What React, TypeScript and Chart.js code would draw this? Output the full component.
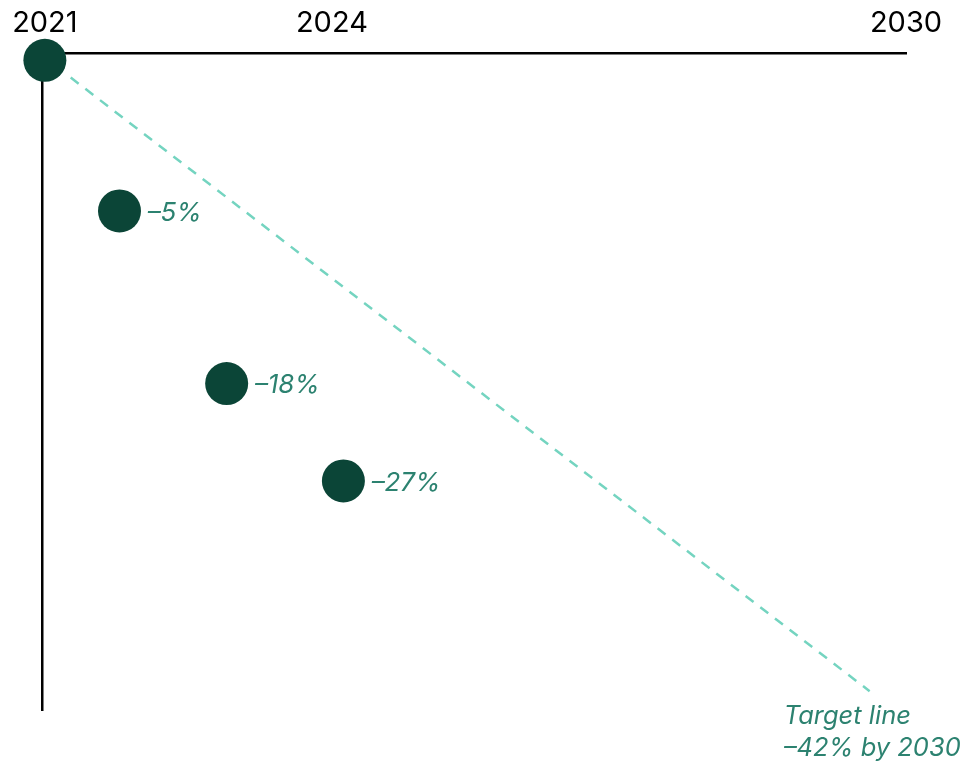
import React, { useEffect, useRef } from "react";
import { Chart, registerables } from "chart.js";

Chart.register(...registerables);

// Axis ticks (years shown along the top axis)
const xTickYears = [2021, 2024, 2030];

const pointYears = [2021, 2021.78, 2022.9, 2024.12];
const pointValues = [0, -9.6, -20.6, -26.8];
const pointLabels = ["", "–5%", "–18%", "–27%"];

// Dashed target line
const targetYears = [2021.27, 2029.62];
const targetValues = [-1.1, -40.2];
const targetLabelLines = ["Target line", "–42% by 2030"];

const DOT = "#0b4537";
const TEAL_TEXT = "#2c8270";
const TEAL_LINE = "#74d4c0";
const FONT = "Inter, 'DejaVu Sans', sans-serif";

const labelPlugin = {
  id: "pointLabels",
  afterDatasetsDraw(chart: any) {
    const { ctx, scales } = chart;
    const xs = scales.x;
    const ys = scales.y;
    ctx.save();
    ctx.fillStyle = TEAL_TEXT;
    ctx.font = `italic 26px ${FONT}`;
    ctx.textBaseline = "middle";
    ctx.textAlign = "left";
    pointLabels.forEach((lab, i) => {
      if (!lab) return;
      const px = xs.getPixelForValue(pointYears[i]);
      const py = ys.getPixelForValue(pointValues[i]);
      ctx.fillText(lab, px + 28, py + 2);
    });
    const ex = xs.getPixelForValue(targetYears[targetYears.length - 1]);
    const ey = ys.getPixelForValue(targetValues[targetValues.length - 1]);
    ctx.font = `italic 25.5px ${FONT}`;
    ctx.textBaseline = "alphabetic";
    targetLabelLines.forEach((line, i) => {
      ctx.fillText(line, ex - 86, ey + 33 + i * 32);
    });
    ctx.restore();
  },
};

export default function App() {
  const ref = useRef<HTMLCanvasElement | null>(null);

  useEffect(() => {
    if (!ref.current) return;
    const chart = new Chart(ref.current, {
      type: "scatter",
      data: {
        datasets: [
          {
            label: "Progress",
            data: pointYears.map((x, i) => ({ x, y: pointValues[i] })),
            backgroundColor: DOT,
            borderColor: DOT,
            borderWidth: 0,
            pointRadius: 21.5,
            pointHoverRadius: 21.5,
            showLine: false,
            clip: false as any,
          },
          {
            label: "Target",
            type: "line" as any,
            data: targetYears.map((x, i) => ({ x, y: targetValues[i] })),
            borderColor: TEAL_LINE,
            borderWidth: 2.5,
            borderDash: [10, 8.5],
            pointRadius: 0,
            showLine: true,
            fill: false,
            clip: false as any,
          },
        ],
      },
      options: {
        animation: false,
        responsive: false,
        maintainAspectRatio: false,
        events: [],
        layout: { padding: { left: 41, right: 60, top: -6, bottom: 54 } },
        plugins: {
          legend: { display: false },
          tooltip: { enabled: false },
        },
        scales: {
          x: {
            type: "linear",
            position: "top",
            min: 2020.97,
            max: 2030,
            afterBuildTicks: (axis: any) => {
              axis.ticks = xTickYears.map((v) => ({ value: v }));
            },
            grid: { display: false, drawTicks: false },
            border: { display: true, color: "#000", width: 2.5 },
            ticks: {
              color: "#000",
              font: { family: FONT, size: 29 },
              padding: 12,
              maxRotation: 0,
              autoSkip: false,
              callback: (v: any) => String(v),
            },
          },
          y: {
            type: "linear",
            min: -41.4,
            max: 0.48,
            grid: { display: false, drawTicks: false },
            border: { display: true, color: "#000", width: 2.5 },
            ticks: { display: false },
          },
        },
      },
      plugins: [labelPlugin],
    });
    return () => chart.destroy();
  }, []);

  return (
    <div style={{ position: "fixed", left: 0, top: 0, width: 966, height: 764, background: "#fff" }}>
      <canvas ref={ref} width={966} height={764} style={{ width: 966, height: 764 }} />
    </div>
  );
}
